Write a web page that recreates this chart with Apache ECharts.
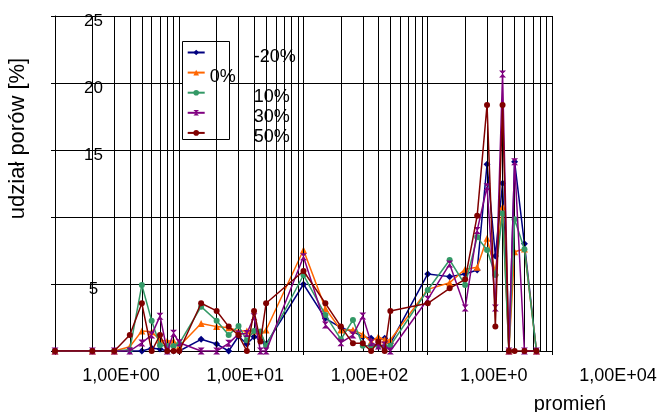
<!DOCTYPE html>
<html>
<head>
<meta charset="utf-8">
<script src="https://cdn.jsdelivr.net/npm/echarts@6/dist/echarts.min.js"></script>
<style>
  html, body { margin: 0; padding: 0; background: #fff; }
  #chart { width: 657px; height: 412px; }
</style>
</head>
<body>
<div id="chart"></div>
<script>
// Pore radius classes (log axis)
const radius = [1, 2, 3, 4, 5, 6, 7, 8, 9, 10, 15, 20, 25, 30, 35, 40, 45, 50,
  100, 150, 200, 250, 300, 350, 400, 450, 500,
  1000, 1500, 2000, 2500, 3000, 3500, 4000, 4500, 5000, 6000, 7500];

// Pore share [%] for each variant
const seriesNames = ['-20%', '0%', '10%', '30%', '50%'];
const minus20 = [0, 0, 0, 0, 0, 0.2, 0.15, 0, 0, 0, 0.87, 0.52, 0, 1.1, 0.52, 1.07, 0.87, 0.52,
  4.98, 2.44, 1.74, 1.44, 1.07, 0.95, 0.87, 0.95, 0.57,
  5.75, 5.55, 5.75, 6.04, 13.93, 7.09, 12.51, 0, 14.13, 8.0, 0];
const zero = [0, 0, 0, 0.32, 1.5, 1.44, 0.8, 0.75, 0.75, 0.35, 2.06, 1.82, 1.74, 1.49, 1.49, 1.49, 1.19, 1.57,
  7.54, 3.18, 1.57, 1.57, 1.24, 0.7, 1.07, 0.82, 0.82,
  4.6, 5.1, 6.1, 6.25, 8.41, 5.9, 10.77, 0, 7.4, 7.61, 0];
const plus10 = [0, 0, 0, 0.1, 4.93, 2.25, 0.42, 0.37, 0.37, 0.55, 3.31, 2.26, 1.19, 1.87, 0.8, 1.5, 1.45, 0.4,
  5.67, 2.69, 0.87, 2.31, 0.4, 0.4, 0.4, 0.32, 0.4,
  4.55, 6.79, 4.93, 8.5, 7.54, 5.67, 10.27, 0, 9.83, 7.59, 0];
const plus30 = [0, 0, 0, 0, 0.6, 1.2, 2.6, 0, 1.32, 0.62, 0, 0, 0.57, 1.27, 1.3, 2.56, 0, 0,
  7.04, 1.94, 0.62, 1.19, 2.61, 0.62, 0.37, 0.45, 0,
  3.86, 6.49, 3.2, 9.0, 12.26, 3.2, 20.67, 0, 14.13, 0, 0];
const plus50 = [0, 0, 0, 1.19, 3.56, 0, 1.19, 0, 0, 0, 3.56, 2.99, 1.82, 1.19, 0, 2.99, 0.7, 3.56,
  5.97, 3.56, 1.82, 0.57, 0.57, 0, 0.7, 0, 2.99,
  3.56, 4.68, 5.35, 10.1, 18.36, 1.82, 18.36, 0, 0, 0, 0];

// Axis tick labels
const xTickLabels = ['1,00E+00', '1,00E+01', '1,00E+02', '1,00E+0', '1,00E+04'];
const yTickLabels = ['', '5', '', '15', '20', '25'];

// Logarithmic grid: 2..9 inside each decade plus decade boundaries
const decades = [1, 10, 100, 1000];
const multipliers = [2, 3, 4, 5, 6, 7, 8, 9, 10];

const values = [minus20, zero, plus10, plus30, plus50];
const colors = ['#000080', '#ff6600', '#339966', '#800080', '#800000'];
const symbols = ['diamond', 'triangle', 'circle', 'path://M0,0 L10,0 L0,10 L10,10 Z', 'circle'];
const symbolSizes = [7, 7, 6, 7, 6];

const FONT = 'Liberation Sans, Arial, sans-serif';
const gridLines = [];
decades.forEach(d => multipliers.forEach(m => gridLines.push(m * d)));

const chart = echarts.init(document.getElementById('chart'));

const series = [{
  name: 'grid',
  type: 'line',
  data: [],
  silent: true,
  markLine: {
    silent: true,
    symbol: 'none',
    animation: false,
    label: { show: false },
    lineStyle: { color: '#000', width: 1, type: 'solid' },
    emphasis: { disabled: true },
    data: gridLines.map(v => ({ xAxis: v }))
  }
}];
seriesNames.forEach((name, i) => {
  series.push({
    name: name,
    type: 'line',
    data: radius.map((r, j) => [r, values[i][j]]),
    symbol: symbols[i],
    symbolSize: symbolSizes[i],
    color: colors[i],
    lineStyle: { width: 1.5, color: colors[i] },
    itemStyle: { color: colors[i] },
    z: 3 + i
  });
});

const hidden = { show: false };

chart.setOption({
  animation: false,
  backgroundColor: '#fff',
  grid: [
    // plot area
    { left: 55, right: 105, top: 16, bottom: 61, containLabel: false, outerBoundsMode: 'none' },
    // tick-label frame, offset from the plot area
    { left: 121, right: 39, top: 21, bottom: 56, containLabel: false, outerBoundsMode: 'none' }
  ],
  xAxis: [{
    type: 'log',
    logBase: 10,
    min: 1,
    max: 10000,
    gridIndex: 0,
    name: 'promień',
    nameLocation: 'end',
    nameGap: 18,
    nameTextStyle: {
      fontFamily: FONT, fontSize: 20, color: '#000',
      align: 'center', verticalAlign: 'top', lineHeight: 106
    },
    axisLine: { show: true, lineStyle: { color: '#000', width: 1 } },
    axisTick: { show: true, length: 4, lineStyle: { color: '#000' } },
    splitLine: hidden,
    minorTick: hidden,
    axisLabel: hidden
  }, {
    type: 'log',
    logBase: 10,
    min: 1,
    max: 10000,
    gridIndex: 1,
    axisLine: hidden,
    axisTick: hidden,
    splitLine: hidden,
    axisLabel: {
      fontFamily: FONT, fontSize: 18, color: '#000',
      margin: 20, verticalAlign: 'middle', align: 'center',
      formatter: v => xTickLabels[Math.round(Math.log10(v))]
    }
  }],
  yAxis: [{
    type: 'value',
    min: 0,
    max: 25,
    interval: 5,
    gridIndex: 0,
    axisLine: { show: true, lineStyle: { color: '#000', width: 1 } },
    axisTick: { show: true, length: 4, lineStyle: { color: '#000' } },
    splitLine: { show: true, lineStyle: { color: '#000', width: 1 } },
    axisLabel: hidden
  }, {
    type: 'value',
    min: 0,
    max: 25,
    interval: 5,
    gridIndex: 1,
    axisLine: hidden,
    axisTick: hidden,
    splitLine: hidden,
    axisLabel: {
      fontFamily: FONT, fontSize: 17, color: '#000',
      align: 'center', margin: 27.5,
      formatter: v => yTickLabels[Math.round(v / 5)]
    }
  }],
  legend: {
    data: seriesNames,
    orient: 'vertical',
    left: 186.7,
    top: 39,
    padding: 0,
    itemWidth: 17,
    itemHeight: 7,
    itemGap: -6.9,
    selectedMode: false,
    textStyle: {
      fontFamily: FONT, fontSize: 18, color: '#000',
      rich: {
        near: { fontFamily: FONT, fontSize: 18, color: '#000', lineHeight: 12, padding: [9, 0, 0, 0] },
        far: { fontFamily: FONT, fontSize: 18, color: '#000', lineHeight: 12, padding: [9, 0, 0, 44] }
      }
    },
    formatter: name => (name === '0%' ? '{near|' + name + '}' : '{far|' + name + '}')
  },
  graphic: [{
    type: 'rect',
    z: 3,
    shape: { x: 182.5, y: 41.5, width: 47, height: 98 },
    style: { fill: '#fff', stroke: '#000', lineWidth: 1 }
  }, {
    type: 'text',
    z: 3,
    x: 18,
    y: 138.5,
    rotation: Math.PI / 2,
    style: {
      text: 'udział porów [%]',
      fontFamily: FONT, fontSize: 22, fill: '#000',
      align: 'center', verticalAlign: 'middle'
    }
  }],
  series: series
});
</script>
</body>
</html>
